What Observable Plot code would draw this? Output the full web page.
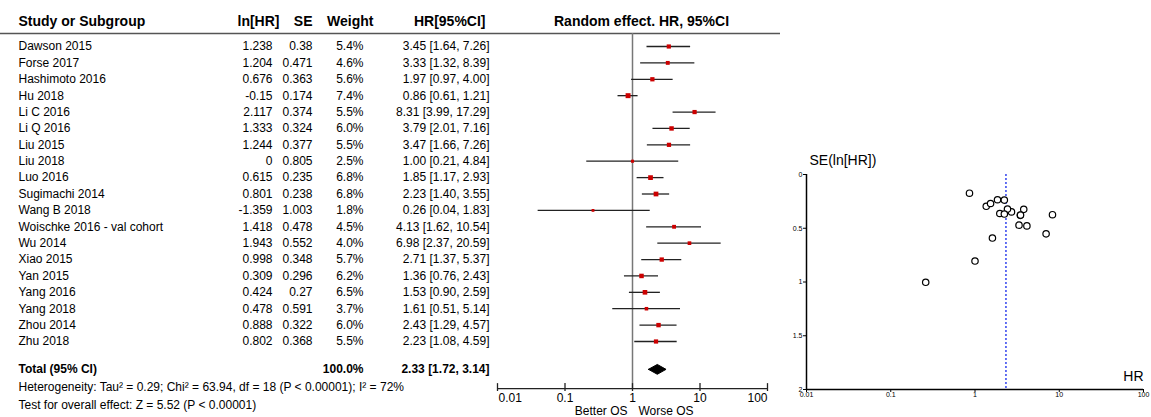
<!DOCTYPE html>
<html>
<head>
<meta charset="utf-8">
<script src="https://cdn.jsdelivr.net/npm/d3@7"></script>
<script src="https://cdn.jsdelivr.net/npm/@observablehq/plot@0.6"></script>
<style>
  html, body { margin: 0; padding: 0; background: white; }
  #wrap { display: flex; width: 1151px; height: 417px; }
</style>
</head>
<body>
<div id="wrap"></div>
<script>
const names = ["Dawson 2015","Forse 2017","Hashimoto 2016","Hu 2018","Li C 2016","Li Q 2016","Liu 2015","Liu 2018","Luo 2016","Sugimachi 2014","Wang B 2018","Woischke 2016 - val cohort","Wu 2014","Xiao 2015","Yan 2015","Yang 2016","Yang 2018","Zhou 2014","Zhu 2018"];
const lnHR = [1.238,1.204,0.676,-0.15,2.117,1.333,1.244,0,0.615,0.801,-1.359,1.418,1.943,0.998,0.309,0.424,0.478,0.888,0.802];
const se = [0.38,0.471,0.363,0.174,0.374,0.324,0.377,0.805,0.235,0.238,1.003,0.478,0.552,0.348,0.296,0.27,0.591,0.322,0.368];
const weight = [5.4,4.6,5.6,7.4,5.5,6.0,5.5,2.5,6.8,6.8,1.8,4.5,4.0,5.7,6.2,6.5,3.7,6.0,5.5];
const hr = [3.45,3.33,1.97,0.86,8.31,3.79,3.47,1.00,1.85,2.23,0.26,4.13,6.98,2.71,1.36,1.53,1.61,2.43,2.23];
const ciLow = [1.64,1.32,0.97,0.61,3.99,2.01,1.66,0.21,1.17,1.40,0.04,1.62,2.37,1.37,0.76,0.90,0.51,1.29,1.08];
const ciHigh = [7.26,8.39,4.00,1.21,17.29,7.16,7.26,4.84,2.93,3.55,1.83,10.54,20.59,5.37,2.43,2.59,5.14,4.57,4.59];

const totalLabel = "Total (95% CI)";
const totalWeight = 100.0;
const totalHR = 2.33;
const totalLow = 1.72;
const totalHigh = 3.14;

const heterogeneityText = "Heterogeneity: Tau\u00b2 = 0.29; Chi\u00b2 = 63.94, df = 18 (P < 0.00001); I\u00b2 = 72%";
const overallText = "Test for overall effect: Z = 5.52 (P < 0.00001)";
const headers = ["Study or Subgroup", "ln[HR]", "SE", "Weight", "HR[95%CI]"];
const forestTitle = "Random effect. HR, 95%CI";
const favourLeft = "Better OS";
const favourRight = "Worse OS";
const hrTicks = [0.01, 0.1, 1, 10, 100];
const seTicks = [0, 0.5, 1, 1.5, 2];
const funnelYLabel = "SE(ln[HR])";
const funnelXLabel = "HR";

const FONT = "Liberation Sans, Arial, Helvetica, sans-serif";
const rows = names.map((name, i) => ({
  i, name, lnHR: lnHR[i], se: se[i], weight: weight[i], hr: hr[i], lo: ciLow[i], hi: ciHigh[i]
}));
const n = rows.length;
const totalRow = n + 0.7;
const axisRow = n + 1.87;
const headRow = -0.8;

// ---------- Forest plot ----------
const forest = Plot.plot({
  width: 780, height: 417,
  marginTop: 0, marginBottom: 0, marginLeft: 0, marginRight: 0,
  style: {fontFamily: FONT, fontSize: "12px", color: "black"},
  x: {type: "log", domain: [hrTicks[0], hrTicks[hrTicks.length - 1]], range: [497, 767], axis: null},
  y: {type: "linear", domain: [0, n - 1], range: [46, 341], axis: null},
  r: {type: "linear", domain: [0, 7.4], range: [1.2, 2.8]},
  marks: [
    // header texts
    Plot.text([headers[0]], {frameAnchor: "top-left", dx: 18, dy: 21, lineAnchor: "middle", textAnchor: "start", fontWeight: "bold", fontSize: 14}),
    Plot.text([headers[1]], {frameAnchor: "top-left", dx: 279, dy: 21, lineAnchor: "middle", textAnchor: "end", fontWeight: "bold", fontSize: 14}),
    Plot.text([headers[2]], {frameAnchor: "top-left", dx: 312, dy: 21, lineAnchor: "middle", textAnchor: "end", fontWeight: "bold", fontSize: 14}),
    Plot.text([headers[3]], {frameAnchor: "top-left", dx: 373, dy: 21, lineAnchor: "middle", textAnchor: "end", fontWeight: "bold", fontSize: 14}),
    Plot.text([headers[4]], {frameAnchor: "top-left", dx: 485, dy: 21, lineAnchor: "middle", textAnchor: "end", fontWeight: "bold", fontSize: 14}),
    Plot.text([forestTitle], {frameAnchor: "top-left", dx: 641, dy: 21, lineAnchor: "middle", textAnchor: "middle", fontWeight: "bold", fontSize: 14}),
    Plot.ruleY([headRow], {stroke: "#555", strokeWidth: 1.5}),
    // table rows
    Plot.text(rows, {y: "i", text: "name", frameAnchor: "left", dx: 18, textAnchor: "start"}),
    Plot.text(rows, {y: "i", text: d => String(d.lnHR), frameAnchor: "left", dx: 272, textAnchor: "end"}),
    Plot.text(rows, {y: "i", text: d => String(d.se), frameAnchor: "left", dx: 312, textAnchor: "end"}),
    Plot.text(rows, {y: "i", text: d => d.weight.toFixed(1) + "%", frameAnchor: "left", dx: 363, textAnchor: "end"}),
    Plot.text(rows, {y: "i", text: d => `${d.hr.toFixed(2)} [${d.lo.toFixed(2)}, ${d.hi.toFixed(2)}]`, frameAnchor: "left", dx: 489, textAnchor: "end"}),
    // total row
    Plot.text([totalLabel], {y: totalRow, frameAnchor: "left", dx: 18, textAnchor: "start", fontWeight: "bold"}),
    Plot.text([totalWeight], {y: totalRow, text: d => d.toFixed(1) + "%", frameAnchor: "left", dx: 363, textAnchor: "end", fontWeight: "bold"}),
    Plot.text([totalHR], {y: totalRow, text: d => `${d.toFixed(2)} [${totalLow.toFixed(2)}, ${totalHigh.toFixed(2)}]`, frameAnchor: "left", dx: 489, textAnchor: "end", fontWeight: "bold"}),
    // footer
    Plot.text([heterogeneityText], {frameAnchor: "top-left", dx: 18, dy: 387, lineAnchor: "middle", textAnchor: "start"}),
    Plot.text([overallText], {frameAnchor: "top-left", dx: 18, dy: 405, lineAnchor: "middle", textAnchor: "start"}),
    // line of no effect
    Plot.ruleX([1], {y1: headRow, y2: axisRow, stroke: "#777", strokeWidth: 1.5}),
    // CIs and squares
    Plot.ruleY(rows, {y: "i", x1: "lo", x2: "hi", stroke: "#222", strokeWidth: 1.3}),
    Plot.dot(rows, {y: "i", x: "hr", r: "weight", symbol: "square", fill: "#cc0000", stroke: "none"}),
    // diamond
    Plot.line([
      {x: totalLow, y: totalRow}, {x: totalHR, y: totalRow - 0.3},
      {x: totalHigh, y: totalRow}, {x: totalHR, y: totalRow + 0.3}, {x: totalLow, y: totalRow}
    ], {x: "x", y: "y", fill: "black", stroke: "black", strokeWidth: 1}),
    // x axis
    Plot.ruleY([axisRow], {x1: hrTicks[0], x2: hrTicks[hrTicks.length - 1], stroke: "#222", strokeWidth: 1.3}),
    Plot.ruleX(hrTicks, {x: d => d, y1: axisRow - 0.3, y2: axisRow + 0.18, stroke: "#222", strokeWidth: 1.3}),
    Plot.text(hrTicks.slice(1, -1), {x: d => d, y: axisRow, text: d => String(d), dy: 10, textAnchor: "middle"}),
    Plot.text(hrTicks.slice(0, 1), {x: d => d, y: axisRow, text: d => String(d), dy: 10, dx: 1, textAnchor: "start"}),
    Plot.text(hrTicks.slice(-1), {x: d => d, y: axisRow, text: d => String(d), dy: 10, textAnchor: "end"}),
    Plot.text([favourLeft], {x: 1, y: axisRow, dy: 23, dx: -5, textAnchor: "end"}),
    Plot.text([favourRight], {x: 1, y: axisRow, dy: 23, dx: 6, textAnchor: "start"})
  ]
});

// ---------- Funnel plot ----------
const funnel = Plot.plot({
  width: 371, height: 417,
  marginTop: 174, marginBottom: 28, marginLeft: 26, marginRight: 8,
  style: {fontFamily: FONT, fontSize: "7px", color: "black"},
  x: {type: "log", domain: [hrTicks[0], hrTicks[hrTicks.length - 1]], label: null},
  y: {type: "linear", domain: [seTicks[0], seTicks[seTicks.length - 1]], reverse: true, label: null},
  marks: [
    Plot.axisX({ticks: hrTicks, tickFormat: d => String(d), tickSize: 3, tickPadding: 0, fontSize: 7, stroke: "black", label: null}),
    Plot.axisY({ticks: seTicks, tickFormat: d => String(d), tickSize: 3, tickPadding: 1, fontSize: 7, stroke: "black", label: null}),
    Plot.ruleX([hrTicks[0]], {stroke: "black", strokeWidth: 1.5}),
    Plot.ruleY([seTicks[seTicks.length - 1]], {stroke: "black", strokeWidth: 1.5}),
    Plot.ruleX([totalHR], {stroke: "#3344ee", strokeWidth: 1.5, strokeDasharray: "2,2"}),
    Plot.dot(rows, {x: "hr", y: "se", r: 3.2, stroke: "black", strokeWidth: 1.2, fill: "white"}),
    Plot.text([funnelYLabel], {frameAnchor: "top-left", dx: 3, dy: -14, lineAnchor: "middle", textAnchor: "start", fontSize: 14}),
    Plot.text([funnelXLabel], {frameAnchor: "bottom-right", dx: 0, dy: -13, lineAnchor: "middle", textAnchor: "end", fontSize: 14})
  ]
});

const wrap = document.getElementById("wrap");
wrap.appendChild(forest);
wrap.appendChild(funnel);
</script>
</body>
</html>
